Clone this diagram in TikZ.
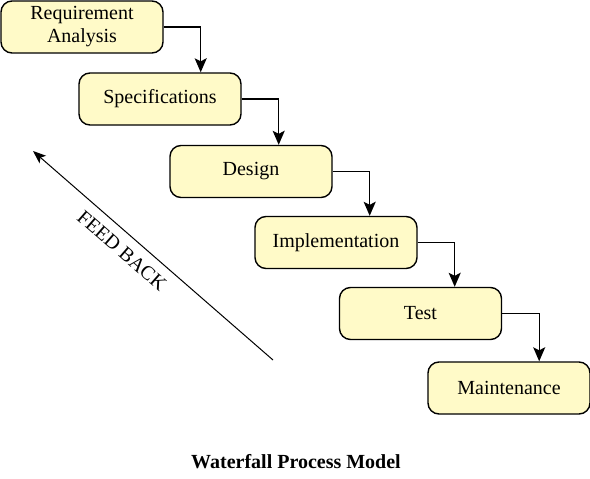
\documentclass[tikz,border=0pt]{standalone}
\usepackage{fontspec}
\setmainfont{Liberation Serif}
\usetikzlibrary{arrows.meta}

\begin{document}
\begin{tikzpicture}[x=1pt, y=1pt,
    phase/.style={draw, line width=1.4pt, rounded corners=11pt, fill=phasefill,
      minimum width=162pt, minimum height=52pt, align=center, inner sep=2pt,
      font=\fontsize{20}{23}\selectfont},
    flow/.style={line width=1.4pt, -{Stealth[length=14pt, width=12pt, inset=3pt]}},
    backflow/.style={line width=1pt, -{Stealth[length=13pt, width=10pt, inset=3pt]}}]
        \definecolor{phasefill}{RGB}{255,250,200}
        \useasboundingbox (0, 0) rectangle (590, -479);

        % Draw phases
        \node[phase] (req) at (82, -27) {Requirement\\Analysis};
        \node[phase] (spec) at (160, -99) {Specifications};
        \node[phase] (design) at (251, -171.5) {Design};
        \node[phase] (impl) at (336, -242.5) {Implementation};
        \node[phase] (test) at (420.5, -313.5) {Test};
        \node[phase] (maint) at (509, -388) {Maintenance};

        % Draw flow
        \draw[flow] (req.east) -| ([xshift=37pt]req.east |- spec.north);
        \draw[flow] (spec.east) -| ([xshift=37pt]spec.east |- design.north);
        \draw[flow] (design.east) -| ([xshift=37pt]design.east |- impl.north);
        \draw[flow] (impl.east) -| ([xshift=37pt]impl.east |- test.north);
        \draw[flow] (test.east) -| ([xshift=37pt]test.east |- maint.north);

        % Feedback
        \coordinate (fbtail) at (273, -360);
        \coordinate (fbtip) at (33, -151);
        \draw[backflow] (fbtail) -- (fbtip);
        \node[rotate=-41, font=\fontsize{20}{23}\selectfont] (fb) at (122, -251) {FEED BACK};

        % Caption
        \node[font=\fontsize{20}{23}\selectfont\bfseries] (title) at (296, -462) {Waterfall Process Model};
      \end{tikzpicture}
\end{document}
